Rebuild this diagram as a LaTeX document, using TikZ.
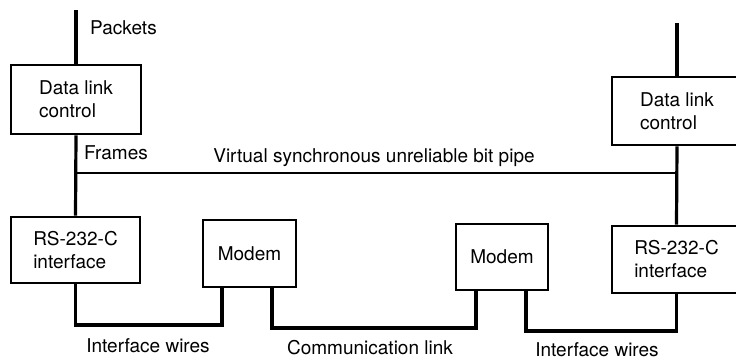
\documentclass[tikz,border=0pt]{standalone}
\usepackage{fontspec}
\setmainfont{TeX Gyre Heros}
\begin{document}
\begin{tikzpicture}[x=1pt,y=-1pt,
  box/.style={draw,line width=2.6pt,align=left,inner sep=0pt},
  wire/.style={line width=3.2pt},
  lbl/.style={inner sep=0pt}]
\fontsize{19}{23}\selectfont
\clip (0,0) rectangle (736,361);

% left station
\node[box,minimum width=130,minimum height=69](dl1) at (76,99.5){Data link\\control};
\node[box,minimum width=129,minimum height=66](rs1) at (75.5,250){RS-232-C\\interface};
% right station
\node[box,minimum width=130,minimum height=68](dl2) at (677,111){Data link\\control};
\node[box,minimum width=129,minimum height=67](rs2) at (676.5,259.5){RS-232-C\\interface};
% modems
\node[box,minimum width=93,minimum height=67](m1) at (249.5,253.5){Modem};
\node[box,minimum width=92,minimum height=66](m2) at (502,257){Modem};

\coordinate (pktL) at (76,10);
\coordinate (pktR) at (677,23);
\coordinate (busL) at (76,173);
\coordinate (busR) at (677,173);

\draw[wire](pktL)--(dl1.north);
\draw[wire](dl1.south)--(rs1.north);
\draw[wire](pktR)--(dl2.north);
\draw[wire](dl2.south)--(rs2.north);
\draw[line width=2.6pt](busL)--(busR);

\draw[wire](rs1.south)|-(222,325)--([xshift=-27.5]m1.south);
\draw[wire]([xshift=22.5]m1.south)|-(476,328)--([xshift=-26]m2.south);
\draw[wire]([xshift=24]m2.south)|-(676.5,331)--(rs2.south);

\node[lbl,anchor=west](pkt) at (90,28){Packets};
\node[lbl,anchor=west](frm) at (84,153){Frames};
\node[lbl](vbp) at (374,158){Virtual synchronous unreliable bit pipe};
\node[lbl](iw1) at (148,346){Interface wires};
\node[lbl](cl) at (370,348){Communication link};
\node[lbl](iw2) at (597,350){Interface wires};
\end{tikzpicture}
\end{document}
